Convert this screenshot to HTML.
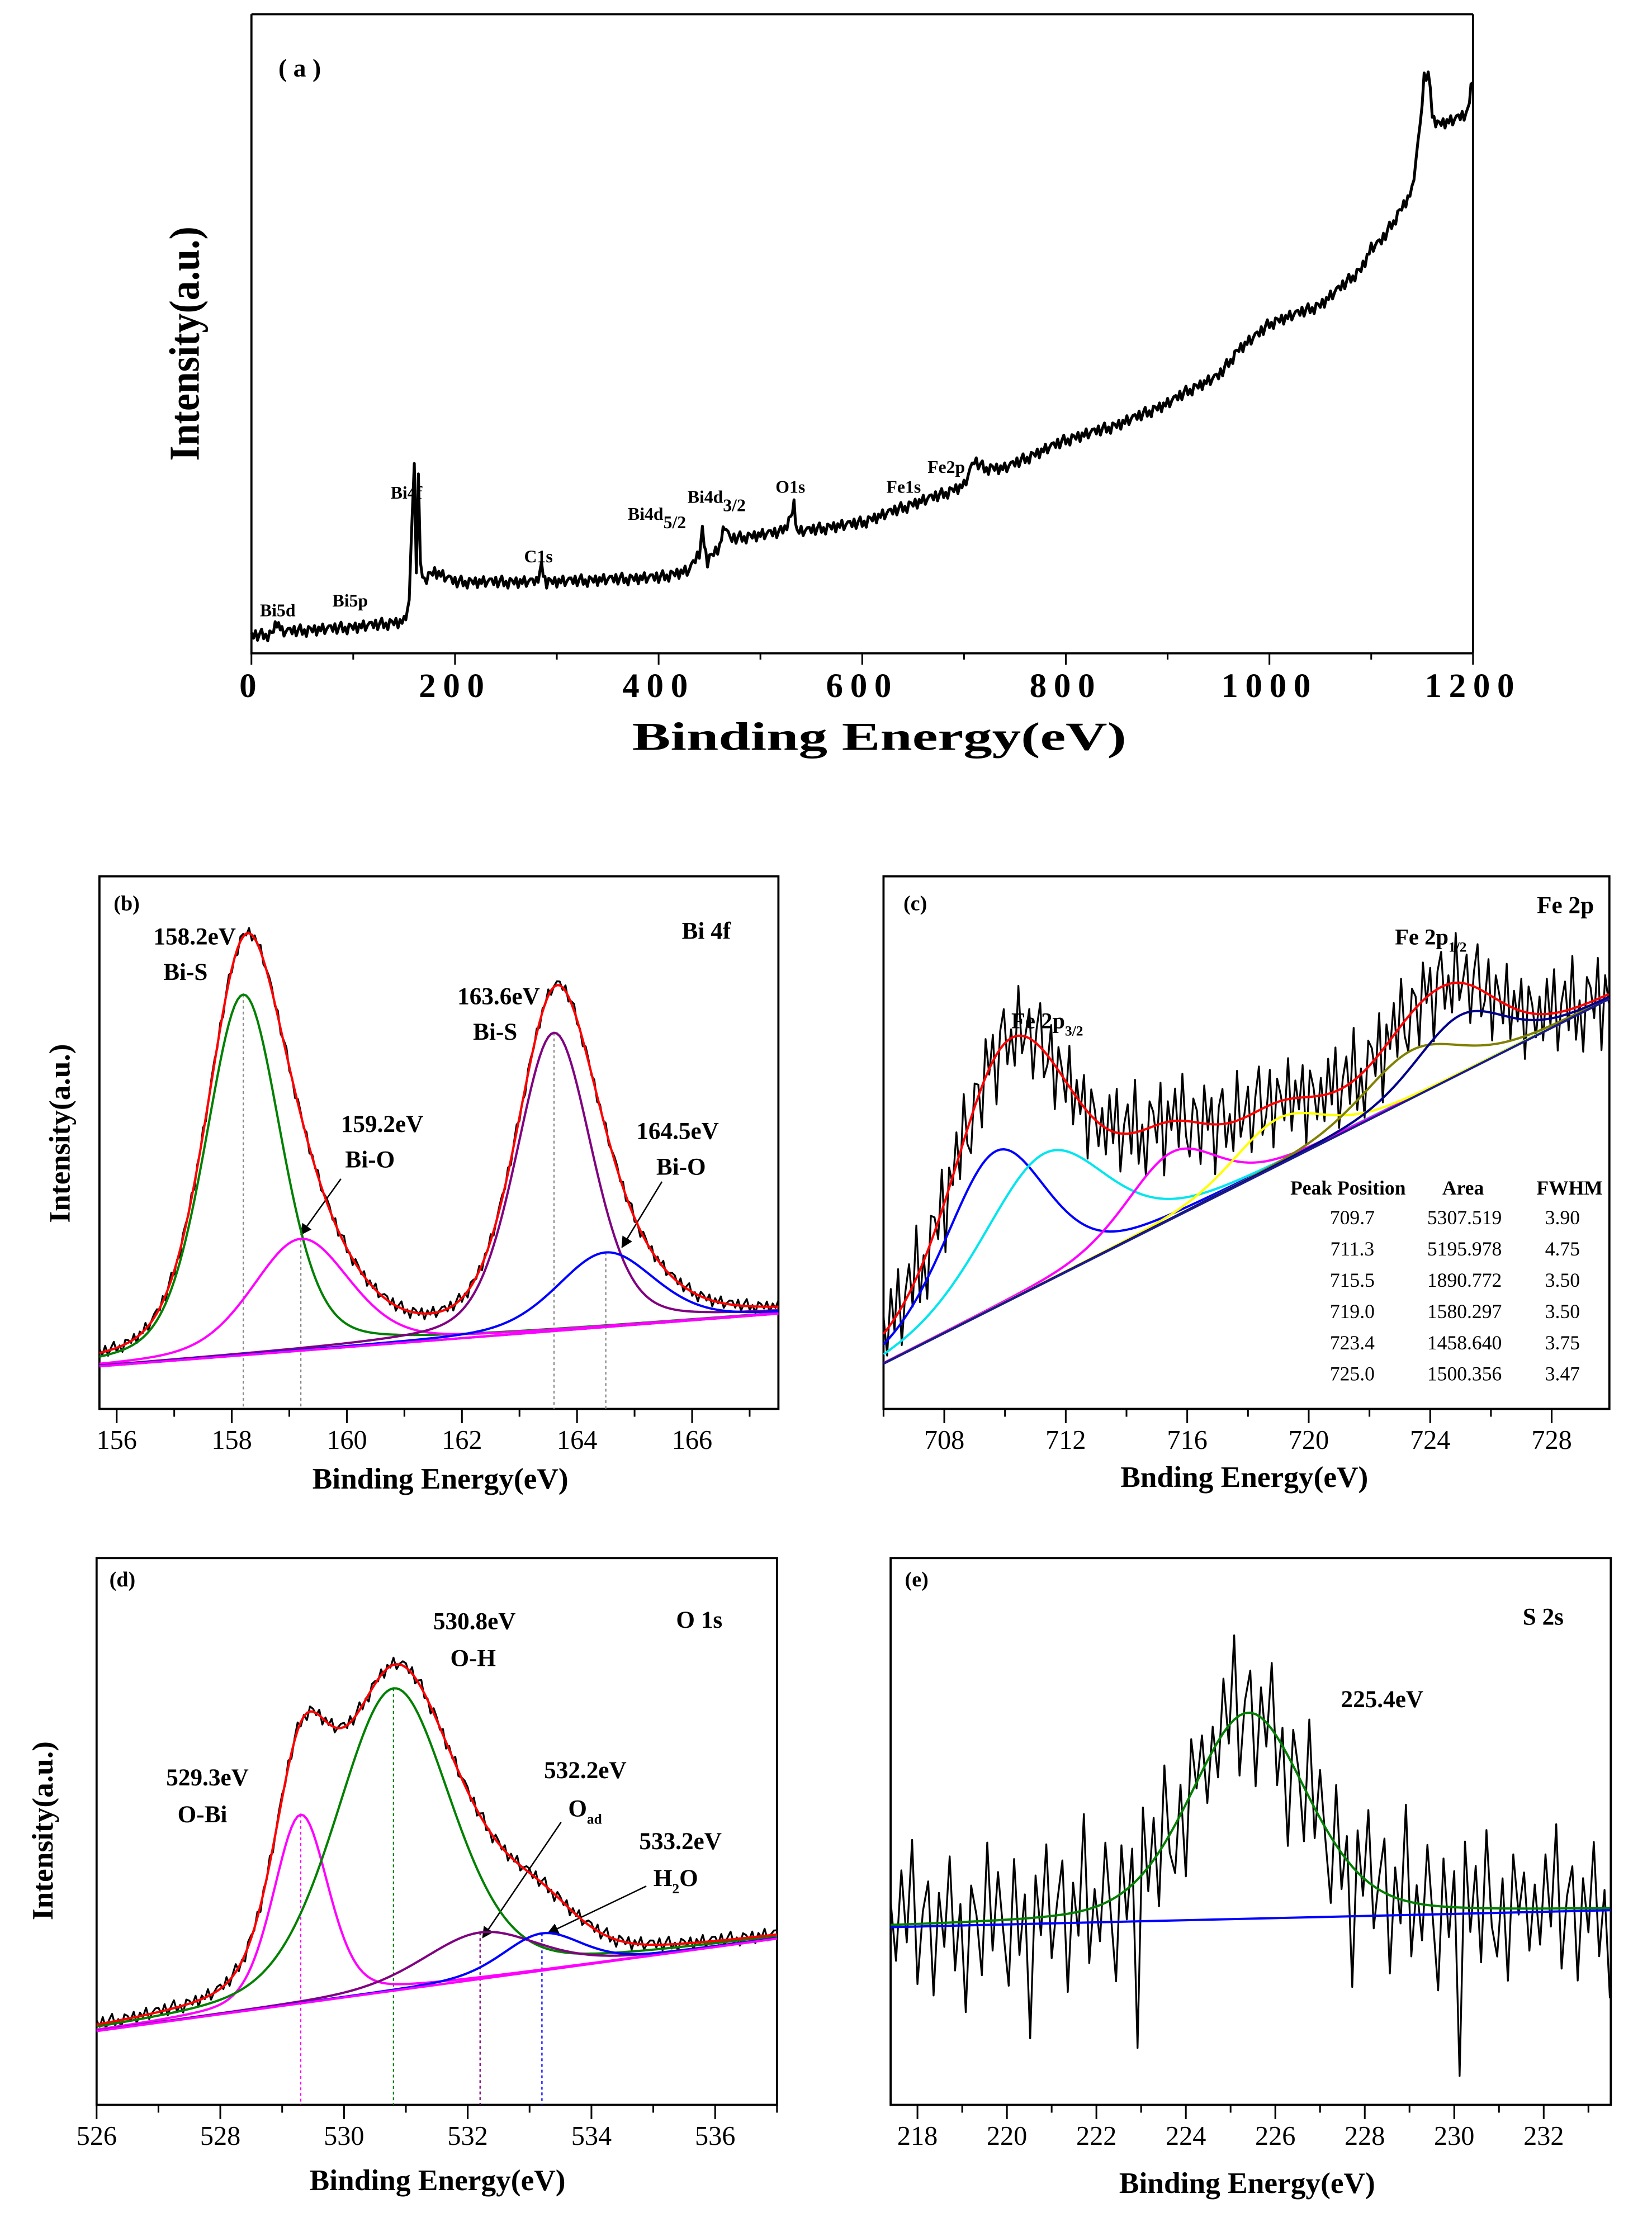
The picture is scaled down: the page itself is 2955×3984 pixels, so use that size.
<!DOCTYPE html>
<html><head><meta charset="utf-8">
<style>
html,body{margin:0;padding:0;background:#fff;}
svg{display:block;}
text{font-family:"Liberation Serif",serif;}
</style></head>
<body>
<svg id="fig" xmlns="http://www.w3.org/2000/svg" width="2955" height="3984" viewBox="0 0 1163 1568">
<rect x="0" y="0" width="1163" height="1568" fill="#fff"/>
<g id="static" font-weight="bold">
 <text x="196" y="54" font-size="18">( a )</text>
 <text transform="translate(140,242) rotate(-90)" text-anchor="middle" font-size="30" textLength="165" lengthAdjust="spacingAndGlyphs">Intensity(a.u.)</text>
 <text x="619" y="528" text-anchor="middle" font-size="28" textLength="348" lengthAdjust="spacingAndGlyphs">Binding Energy(eV)</text>
 <text x="183" y="434" font-size="12.5">Bi5d</text>
 <text x="234" y="427" font-size="12.5">Bi5p</text>
 <text x="275" y="351" font-size="12.5">Bi4f</text>
 <text x="369" y="396" font-size="12.5">C1s</text>
 <text x="442" y="366" font-size="12.5">Bi4d<tspan dy="6">5/2</tspan></text>
 <text x="484" y="354" font-size="12.5">Bi4d<tspan dy="6">3/2</tspan></text>
 <text x="546" y="347" font-size="12.5">O1s</text>
 <text x="624" y="347" font-size="12.5">Fe1s</text>
 <text x="653" y="333" font-size="12.5">Fe2p</text>
 <text x="80" y="641" font-size="15">(b)</text>
 <text x="480" y="661" font-size="17">Bi 4f</text>
 <text transform="translate(49,798) rotate(-90)" text-anchor="middle" font-size="21">Intensity(a.u.)</text>
 <text x="310" y="1048" text-anchor="middle" font-size="21">Binding Energy(eV)</text>
 <text x="108" y="665" font-size="17">158.2eV</text>
 <text x="115" y="690" font-size="17">Bi-S</text>
 <text x="240" y="797" font-size="17">159.2eV</text>
 <text x="243" y="822" font-size="17">Bi-O</text>
 <text x="322" y="707" font-size="17">163.6eV</text>
 <text x="333" y="732" font-size="17">Bi-S</text>
 <text x="448" y="802" font-size="17">164.5eV</text>
 <text x="462" y="827" font-size="17">Bi-O</text>
 <text x="636" y="641" font-size="15">(c)</text>
 <text x="1082" y="643" font-size="17">Fe 2p</text>
 <text x="982" y="665" font-size="16">Fe 2p<tspan dy="5" font-size="10">1/2</tspan></text>
 <text x="712" y="724" font-size="16">Fe 2p<tspan dy="5" font-size="10">3/2</tspan></text>
 <text x="876" y="1047" text-anchor="middle" font-size="21">Bnding Energy(eV)</text>
 <g font-size="14" font-weight="normal">
  <text x="949" y="841" text-anchor="middle" font-weight="bold">Peak Position</text>
  <text x="1030" y="841" text-anchor="middle" font-weight="bold">Area</text>
  <text x="1105" y="841" text-anchor="middle" font-weight="bold">FWHM</text>
 </g>
 <text x="77" y="1117" font-size="15">(d)</text>
 <text x="476" y="1146" font-size="17">O 1s</text>
 <text transform="translate(37,1289) rotate(-90)" text-anchor="middle" font-size="21">Intensity(a.u.)</text>
 <text x="308" y="1542" text-anchor="middle" font-size="21">Binding Energy(eV)</text>
 <text x="305" y="1147" font-size="17">530.8eV</text>
 <text x="317" y="1173" font-size="17">O-H</text>
 <text x="117" y="1257" font-size="17">529.3eV</text>
 <text x="125" y="1283" font-size="17">O-Bi</text>
 <text x="383" y="1252" font-size="17">532.2eV</text>
 <text x="400" y="1279" font-size="17">O<tspan dy="5" font-size="10">ad</tspan></text>
 <text x="450" y="1302" font-size="17">533.2eV</text>
 <text x="460" y="1328" font-size="17">H<tspan dy="5" font-size="10">2</tspan><tspan dy="-5">O</tspan></text>
 <text x="637" y="1117" font-size="15">(e)</text>
 <text x="1072" y="1144" font-size="17">S 2s</text>
 <text x="944" y="1202" font-size="17">225.4eV</text>
 <text x="878" y="1544" text-anchor="middle" font-size="21">Binding Energy(eV)</text>
 <defs><marker id="ah" markerWidth="8" markerHeight="8" refX="7" refY="4" orient="auto"><path d="M0,0 L8,4 L0,8 z" fill="#000"/></marker></defs>
 <line x1="240" y1="830" x2="212" y2="869" stroke="#000" stroke-width="1" marker-end="url(#ah)"/>
 <line x1="466" y1="832" x2="438" y2="878" stroke="#000" stroke-width="1" marker-end="url(#ah)"/>
 <line x1="395" y1="1283" x2="340" y2="1364" stroke="#000" stroke-width="1" marker-end="url(#ah)"/>
 <line x1="455" y1="1328" x2="386" y2="1361" stroke="#000" stroke-width="1" marker-end="url(#ah)"/>
</g>
<g id="plots"></g>
</svg>
<script>
const surveyEnergy = [0,20,25,30,100,150,155,158,160,162,164,166,170,180,200,280,285,290,400,430,440,443,448,460,465,470,520,530,533,536,600,650,680,700,710,720,740,800,850,900,920,950,970,990,1000,1050,1090,1100,1110,1140,1148,1152,1156,1160,1165,1180,1195,1198,1200];
const surveyIntensity = [2.7,2.9,4.9,3.3,4.0,4.9,7.8,22.2,28.9,13.3,27.8,13.3,11.6,12.7,11.1,11.1,13.3,11.1,11.8,12.9,15.6,18.9,14.4,16.7,20,17.8,18.9,21.1,23.3,18.9,20.4,23.3,24.9,26.2,30,28.9,28.9,33.3,35.6,39,41,43.3,47.5,50,51.5,54.4,60,63.3,64.4,72.2,82.2,90,90.7,84.4,82.7,83.3,84.4,88.9,89.3];
const surveyTicks = [0,200,400,600,800,1000,1200];

const biCenters = [158.2,159.2,163.6,164.5];
const biHeights = [67.7,21,56,14];
const biWidths = [1.55,2.0,1.55,2.0];
const biBaseline = [8,17.9];
const biTicks = [156,158,160,162,164,166];

const feCenters = [709.7,711.3,715.5,719.0,723.4,725.0];
const feHeights = [29.3,24.3,12.5,8.8,9,11];
const feWidths = [3.9,4.75,3.5,3.5,3.75,3.47];
const feAreas = ["5307.519","5195.978","1890.772","1580.297","1458.640","1500.356"];
const feBaseline = [8.5,77];
const feTicks = [708,712,716,720,724,728];

const oCenters = [529.3,530.8,532.2,533.2];
const oHeights = [34.5,55.3,8.5,6.8];
const oWidths = [1.05,2.2,2.2,1.5];
const oBaseline = [13.5,30.4];
const oTicks = [526,528,530,532,534,536];

const sCenters = [225.4];
const sHeights = [37.7];
const sWidths = [3.1];
const sBaseline = [32.5,35.6];
const sTicks = [218,220,222,224,226,228,230,232];

const noiseSmall = [0.6,-0.4,0.9,-0.8,0.3,1.1,-0.6,0.2,-1.0,0.7,0.4,-0.3,0.8,-0.9,0.5,-0.2,1.0,-0.7,0.1,0.6];
const noiseFe = [6,-9,12,-4,15,-13,3,10,-7,18,-11,2,-16,9,5,-6,14,-18,7,-3,11,-9,16,-5,-12,8,4,-14,13,-2,9,-17,6,12,-8,3,-10,17,-6,1,10,-13,5,15,-9,-3,12,-15,8,2,-7,14,-11,6,-4,11,-16,9,3,-8];
const noiseS = [4,-6,9,-3,14,-10,2,7,-12,5,-4,11,-8,3,-15,6,1,-9,13,-5,8,-2,-11,10,-6,4,-20,7,-3,12,-7,2,9,-13,5,-4,16,-9,3,-6,10,-2,-14,8,-5,6,-28,11,-4,7,-9,13,-3,-8,5,-12,9,-1,6,-7];

const NS = "http://www.w3.org/2000/svg";
const plots = document.getElementById("plots");
function mk(tag, attrs, parent){
  const el = document.createElementNS(NS, tag);
  for (const k in attrs) el.setAttribute(k, attrs[k]);
  (parent||plots).appendChild(el);
  return el;
}
function sx(p,e){ return p.x0 + (e-p.e0)/(p.e1-p.e0)*(p.x1-p.x0); }
function sy(p,v){ return p.y1 - v/100*(p.y1-p.y0); }
function pv(e,c,h,w){ const t=(e-c)/w; return h*(0.7*Math.exp(-4*Math.LN2*t*t)+0.3/(1+4*t*t)); }
function base(p,bl,e){ return bl[0] + (bl[1]-bl[0])*(e-p.e0)/(p.e1-p.e0); }
function pathFrom(p, es, vs){
  let d=""; for(let i=0;i<es.length;i++){ d+=(i?"L":"M")+sx(p,es[i]).toFixed(2)+","+sy(p,vs[i]).toFixed(2); } return d;
}
function frame(p, name, ticks, minorStep, box){
  const g = mk("g",{});
  
  
  if (box) {
    mk("rect",{x:p.x0,y:p.y0,width:p.x1-p.x0,height:p.y1-p.y0,fill:"none",stroke:"#000","stroke-width":1.5},g);
  } else {
    mk("path",{d:`M${p.x0},${p.y0}V${p.y1}H${p.x1}`,fill:"none",stroke:"#000","stroke-width":1.5},g);
    mk("line",{x1:p.x0,y1:p.y0,x2:p.x1,y2:p.y0,stroke:"#000","stroke-width":1.5},g);
    mk("line",{x1:p.x1,y1:p.y0,x2:p.x1,y2:p.y1,stroke:"#000","stroke-width":1.5},g);
  }
  for (let e=Math.ceil(p.e0/minorStep)*minorStep; e<=p.e1+1e-9; e+=minorStep){
    const x=sx(p,e); const major = ticks.some(t=>Math.abs(t-e)<1e-6);
    mk("line",{x1:x,y1:p.y1,x2:x,y2:p.y1+(major?p.tl:p.tl*0.55),stroke:"#000","stroke-width":1.2},g);
  }
  ticks.forEach(t=>{
    const tx = mk("text",{x:sx(p,t),y:p.y1+p.tl+p.fs*0.95,"text-anchor":"middle","font-size":p.fs,"letter-spacing":p.ls||0,"font-weight":p.fw||"normal"},g);
    
    
    tx.textContent = t;
  });
}
function curve(p, d, color, w, name){
  const el = mk("path",{d:d,fill:"none",stroke:color,"stroke-width":w,"stroke-linejoin":"round"});
  
  
  return el;
}
function fitPanel(p, name, C, H, W, BL, colors, step, noise, nscale, dotted, dotColors){
  const es=[]; for(let e=p.e0;e<=p.e1+1e-9;e+=step) es.push(e);
  const raw = es.map((e,i)=>{ let v=base(p,BL,e); C.forEach((c,k)=>v+=pv(e,c,H[k],W[k])); return v + noise[i%noise.length]*nscale; });
  curve(p, pathFrom(p,es,raw), "#000", 1.3, name+'-raw-data');
  if (dotted) C.forEach((c,k)=>{
    const top = base(p,BL,c)+H[k];
    const l = mk("line",{x1:sx(p,c),y1:sy(p,top),x2:sx(p,c),y2:p.y1,stroke:dotColors?dotColors[k]:"#888","stroke-width":0.9,"stroke-dasharray":"2,2"});
    
    
  });
  C.forEach((c,k)=>{
    const vs = es.map(e=>base(p,BL,e)+pv(e,c,H[k],W[k]));
    curve(p, pathFrom(p,es,vs), colors[k], 1.6, name+'-component-'+c);
  });
  curve(p, pathFrom(p,[p.e0,p.e1],[BL[0],BL[1]]), p.blColor||"#0000ff", 1.6, name+'-baseline');
  if (p.env) {
    const env = es.map(e=>{ let v=base(p,BL,e); C.forEach((c,k)=>v+=pv(e,c,H[k],W[k])); return v; });
    curve(p, pathFrom(p,es,env), "#ff0000", 1.6, name+'-envelope');
  }
}

const pa = {x0:177,x1:1037,y0:10,y1:460,e0:0,e1:1200,tl:8,fs:24,ls:5,fw:"bold"};
frame(pa,'survey',surveyTicks,100,false);
(function(){
  const es=[], vs=[]; let n=0;
  for (let i=0;i<surveyEnergy.length-1;i++){
    const a=surveyEnergy[i], b=surveyEnergy[i+1];
    const steps=Math.max(1,Math.round((b-a)/2));
    for (let s=0;s<steps;s++){
      const e=a+(b-a)*s/steps;
      const v=surveyIntensity[i]+(surveyIntensity[i+1]-surveyIntensity[i])*s/steps;
      es.push(e); vs.push(v+noiseSmall[n++%noiseSmall.length]*0.9);
    }
  }
  es.push(1200); vs.push(surveyIntensity[surveyIntensity.length-1]);
  curve(pa, pathFrom(pa,es,vs), "#000", 2, 'survey-spectrum');
})();

const pb = {x0:70,x1:548,y0:617,y1:992,e0:155.7,e1:167.5,tl:10,fs:19,env:true,blColor:"#3030ff"};
frame(pb,'bi4f',biTicks,1,true);
fitPanel(pb,'bi4f',biCenters,biHeights,biWidths,biBaseline,["#008000","#ff00ff","#800080","#0000ff"],0.05,noiseSmall,1.2,true,null);
curve(pb, pathFrom(pb,[pb.e0,pb.e1],biBaseline), "#ff00ff", 1.6, 'bi4f-baseline-overlay');

const pc = {x0:622,x1:1133,y0:617,y1:992,e0:706.0,e1:729.9,tl:10,fs:19,env:true,blColor:"#1a1a8c"};
frame(pc,'fe2p',feTicks,2,true);
fitPanel(pc,'fe2p',feCenters,feHeights,feWidths,feBaseline,["#0000ff","#00e5ee","#ff00ff","#ffff00","#808000","#00008b"],0.12,noiseFe,0.55,false,null);
feCenters.forEach((c,i)=>{
  const y = 862 + i*22;
  const t1 = mk("text",{x:952,y:y,"text-anchor":"middle","font-size":14});
  
  
  t1.textContent = c.toFixed(1);
  const t2 = mk("text",{x:1031,y:y,"text-anchor":"middle","font-size":14});
  
  
  t2.textContent = feAreas[i];
  const t3 = mk("text",{x:1100,y:y,"text-anchor":"middle","font-size":14});
  
  
  t3.textContent = feWidths[i].toFixed(2);
});

const pd = {x0:68,x1:547,y0:1097,y1:1482,e0:526,e1:537,tl:10,fs:19,env:true,blColor:"#ff00ff"};
frame(pd,'o1s',oTicks,1,true);
fitPanel(pd,'o1s',oCenters,oHeights,oWidths,oBaseline,["#ff00ff","#008000","#800080","#0000ff"],0.05,noiseSmall,1.3,true,["#ff00ff","#008000","#800080","#0000ff"]);

const pe = {x0:627,x1:1134,y0:1097,y1:1482,e0:217.4,e1:233.5,tl:10,fs:19,env:false,blColor:"#0000ff"};
frame(pe,'s2s',sTicks,1,true);
fitPanel(pe,'s2s',sCenters,sHeights,sWidths,sBaseline,["#008000"],0.12,noiseS,1.1,false,null);
</script>
</body></html>
